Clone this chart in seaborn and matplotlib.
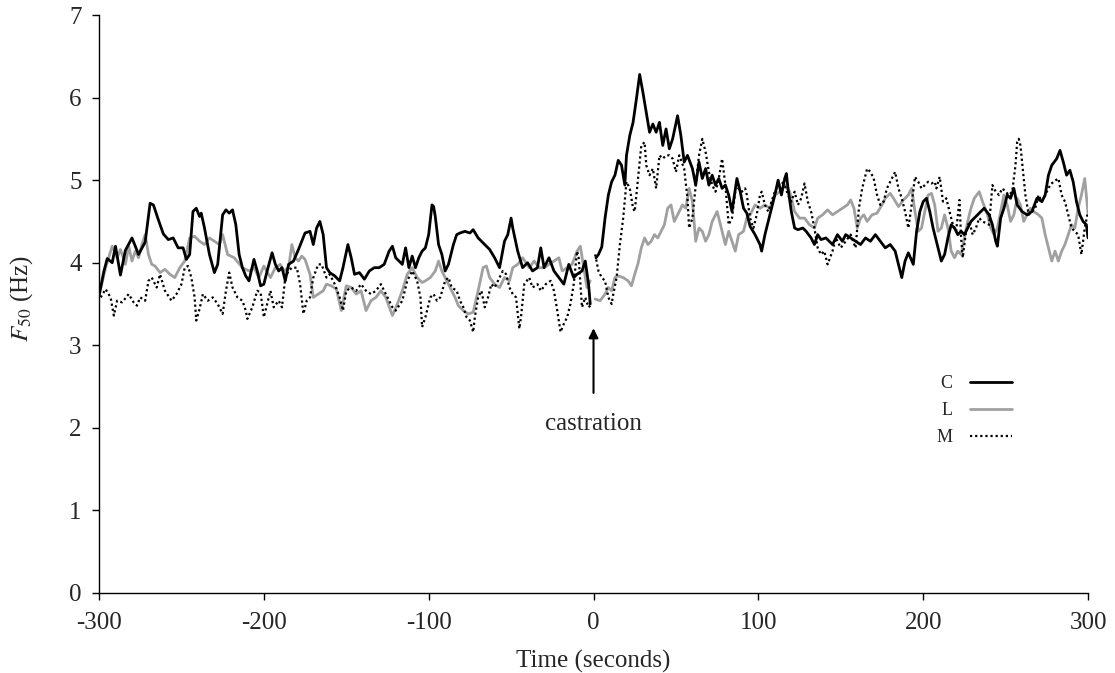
import numpy as np
import pandas as pd
import matplotlib
matplotlib.use("Agg")
import matplotlib.pyplot as plt
from matplotlib.lines import Line2D
import seaborn as sns

# ===============================
# DATOS
# ===============================

c_time = [-300, -297, -295, -292, -290, -287, -284, -280, -276, -272, -269, -267, -264, -261, -258, -255,
          -252, -249, -247, -245, -243, -241, -239, -238, -236, -233, -230, -228, -225, -223, -221, -219,
          -217, -215, -213, -211, -209, -206, -204, -202, -200, -198, -195, -193, -191, -189, -187, -185,
          -182, -179, -177, -175, -172, -170, -168, -166, -164, -162, -160, -157, -154, -152, -149, -147,
          -145, -142, -139, -136, -133, -130, -127, -124, -122, -120, -116, -114, -112, -110, -108, -106,
          -104, -102, -100, -98, -97, -96, -94, -92, -90, -88, -85, -83, -81, -78, -75, -73, -70, -68, -65,
          -63, -60, -57, -54, -52, -50, -49, -46, -43, -40, -37, -34, -32, -30, -27, -24, -21, -18, -15, -12,
          -10, -7, -5, -3, -2,
          1.5, 3, 5, 7, 9, 11, 13, 15, 17, 19, 20, 22, 24, 26, 28, 30, 32, 34, 36, 38, 40, 42, 44, 46, 48,
          51, 53, 55, 57, 60, 62, 64, 66, 68, 70, 72, 74, 76, 78, 80, 82, 84, 87, 89, 91, 93, 95, 98, 101,
          102, 104, 106, 108, 110, 112, 114, 116, 117, 118, 120, 122, 124, 127, 129, 132, 134, 136, 138, 141,
          145, 148, 151, 153, 156, 159, 162, 165, 168, 171, 174, 177, 180, 183, 185, 187, 189, 191, 194, 196,
          198, 200, 202, 204, 206, 208, 211, 213, 215, 217, 219, 221, 223, 225, 227, 229, 231, 233, 235, 237,
          240, 242, 244, 245, 247, 249, 251, 253, 255, 257, 260, 263, 266, 269, 272, 274, 276, 278, 281, 283,
          285, 287, 289, 291, 293, 295, 297, 299, 300]
c_value = [3.6, 3.9, 4.05, 4.0, 4.2, 3.85, 4.15, 4.3, 4.1, 4.25, 4.72, 4.7, 4.52, 4.35, 4.28, 4.3,
           4.18, 4.18, 4.04, 4.1, 4.62, 4.66, 4.56, 4.6, 4.42, 4.1, 3.88, 3.98, 4.58, 4.64, 4.6, 4.64,
           4.46, 4.1, 3.94, 3.84, 3.78, 4.04, 3.9, 3.72, 3.74, 3.9, 4.12, 3.98, 3.9, 3.94, 3.78, 3.98,
           4.02, 4.16, 4.26, 4.36, 4.38, 4.22, 4.42, 4.5, 4.34, 3.94, 3.88, 3.84, 3.78, 3.94, 4.22, 4.06,
           3.86, 3.88, 3.8, 3.9, 3.94, 3.94, 3.98, 4.14, 4.2, 4.06, 3.98, 4.18, 3.94, 4.08, 3.94, 4.06,
           4.14, 4.18, 4.34, 4.7, 4.68, 4.56, 4.22, 4.1, 3.9, 3.98, 4.22, 4.34, 4.36, 4.38, 4.36, 4.4, 4.3, 4.26, 4.2,
           4.16, 4.06, 3.94, 4.26, 4.34, 4.54, 4.42, 4.14, 3.94, 4.0, 3.9, 3.94, 4.18, 3.94, 4.06, 3.9, 3.82, 3.74, 3.98, 3.82,
           3.86, 3.9, 4.02, 3.74, 3.5,
           4.06, 4.1, 4.19, 4.54, 4.82, 4.98, 5.06, 5.24, 5.18, 4.94, 5.3, 5.54, 5.7, 5.98, 6.28, 6.06, 5.82, 5.58, 5.68, 5.58, 5.7, 5.42, 5.62, 5.38, 5.5,
           5.78, 5.54, 5.22, 5.3, 5.14, 4.94, 5.22, 5.02, 5.14, 4.94, 5.06, 4.94, 5.02, 4.9, 4.94, 4.82, 4.62, 5.02, 4.86, 4.66, 4.6, 4.44, 4.34, 4.22,
           4.14, 4.34, 4.5, 4.66, 4.82, 5.0, 4.82, 5.02, 5.08, 4.9, 4.62, 4.42, 4.4, 4.42, 4.38, 4.3, 4.22, 4.34, 4.28, 4.3,
           4.22, 4.34, 4.26, 4.34, 4.3, 4.26, 4.22, 4.3, 4.26, 4.34, 4.26, 4.18, 4.22, 4.14, 3.98, 3.82, 4.02, 4.12, 3.98, 4.38,
           4.62, 4.74, 4.78, 4.62, 4.42, 4.26, 4.02, 4.1, 4.3, 4.46, 4.42, 4.34, 4.38, 4.34, 4.42, 4.5, 4.54, 4.58, 4.62, 4.66,
           4.58, 4.46, 4.26, 4.2, 4.54, 4.66, 4.82, 4.78, 4.9, 4.7, 4.62, 4.58, 4.62, 4.78, 4.74, 4.82, 5.06, 5.18, 5.26, 5.36,
           5.22, 5.06, 5.12, 4.98, 4.74, 4.58, 4.5, 4.46, 4.3]

l_time = [-300, -296, -292, -289, -287, -284, -282, -280, -278, -276, -274, -272, -270, -268, -266, -263,
          -260, -257, -254, -251, -248, -245, -242, -239, -236, -233, -230, -227, -225, -222, -218, -213,
          -209, -206, -203, -200, -196, -193, -190, -188, -185, -183, -181, -179, -177, -175, -172, -170,
          -167, -164, -162, -159, -156, -153, -150, -147, -144, -141, -138, -135, -132, -129, -126, -122,
          -119, -116, -113, -110, -107, -104, -102, -99, -96, -94, -92, -90, -87, -84, -82, -79, -76, -73,
          -70, -67, -65, -63, -60, -57, -54, -51, -49, -46, -43, -39, -36, -33, -30, -27, -24, -21, -19, -16,
          -13, -10, -8, -6, -4, -2,
          1, 4, 7, 9, 11, 13, 15, 18, 21, 23, 25, 27, 29, 31, 33, 35, 37, 39, 41, 43, 45, 47, 49, 51, 54,
          56, 58, 60, 62, 64, 66, 68, 70, 72, 75, 77, 80, 82, 84, 86, 88, 91, 93, 95, 98, 101, 104, 107, 110,
          113, 116, 119, 122, 125, 128, 131, 134, 136, 139, 142, 145, 148, 151, 154, 156, 158, 160, 162, 164,
          166, 169, 172, 175, 177, 180, 182, 185, 188, 191, 193, 195, 197, 199, 201, 203, 205, 207, 209, 211,
          213, 215, 217, 219, 221, 223, 225, 227, 229, 231, 234, 236, 239, 241, 243, 245, 247, 249, 251, 253,
          255, 257, 259, 261, 263, 265, 267, 270, 272, 274, 276, 278, 280, 282, 284, 286, 288, 290, 292, 294,
          296, 298, 300]
l_value = [3.6, 3.94, 4.2, 4.06, 4.16, 3.98, 4.2, 4.02, 4.14, 4.06, 4.22, 4.34, 4.1, 3.98, 3.96, 3.88,
           3.92, 3.86, 3.82, 3.94, 4.02, 4.3, 4.32, 4.26, 4.22, 4.3, 4.26, 4.22, 4.34, 4.1, 4.06, 3.94,
           3.9, 3.94, 3.82, 3.96, 3.82, 3.94, 3.98, 3.9, 3.94, 4.22, 4.06, 4.02, 4.08, 4.04, 3.86, 3.58,
           3.62, 3.66, 3.74, 3.72, 3.68, 3.42, 3.72, 3.7, 3.62, 3.66, 3.42, 3.54, 3.58, 3.66, 3.58, 3.36,
           3.5, 3.66, 3.86, 3.94, 3.82, 3.76, 3.78, 3.82, 3.9, 4.02, 3.9, 3.82, 3.7, 3.58, 3.48, 3.42, 3.38, 3.4,
           3.66, 3.94, 3.96, 3.82, 3.74, 3.7, 3.82, 3.78, 3.94, 3.98, 4.06, 3.94, 4.02, 3.94, 3.94, 3.98, 4.02, 4.06, 3.9, 3.94,
           3.98, 4.14, 4.2, 3.95, 3.7, 3.78,
           3.56, 3.54, 3.62, 3.7, 3.66, 3.82, 3.84, 3.82, 3.78, 3.72, 3.86, 3.99, 4.18, 4.3, 4.22, 4.26, 4.34, 4.3, 4.38, 4.46, 4.66, 4.7, 4.5, 4.58, 4.7,
           4.66, 4.9, 4.74, 4.26, 4.42, 4.38, 4.26, 4.34, 4.5, 4.62, 4.46, 4.22, 4.38, 4.26, 4.14, 4.34, 4.38, 4.54, 4.58, 4.7, 4.66, 4.7, 4.66, 4.82,
           4.86, 4.94, 4.86, 4.62, 4.54, 4.54, 4.46, 4.42, 4.54, 4.58, 4.64, 4.58, 4.62, 4.66, 4.7, 4.76, 4.66, 4.42, 4.54, 4.58,
           4.5, 4.58, 4.6, 4.7, 4.78, 4.84, 4.78, 4.68, 4.76, 4.82, 4.9, 4.62, 4.38, 4.42, 4.62, 4.82, 4.84, 4.7, 4.38, 4.42,
           4.58, 4.42, 4.14, 4.06, 4.14, 4.1, 4.3, 4.5, 4.66, 4.78, 4.86, 4.74, 4.58, 4.42, 4.34, 4.42, 4.62, 4.82, 4.7, 4.5,
           4.58, 4.78, 4.7, 4.5, 4.58, 4.66, 4.62, 4.58, 4.54, 4.34, 4.18, 4.02, 4.14, 4.02, 4.14, 4.22, 4.34, 4.46, 4.42, 4.66,
           4.82, 5.02, 4.6]

m_time = [-299, -296, -293, -291, -289, -286, -282, -279, -277, -275, -272, -270, -268, -265, -263, -260,
          -258, -256, -253, -250, -248, -246, -244, -242, -241, -239, -237, -234, -231, -228, -225, -223,
          -221, -219, -216, -213, -211, -210, -207, -204, -202, -200, -198, -196, -194, -191, -189, -187,
          -185, -183, -180, -178, -176, -174, -172, -170, -167, -165, -162, -160, -157, -154, -152, -150,
          -147, -144, -141, -138, -135, -132, -129, -126, -122, -120, -116, -113, -110, -107, -105, -104,
          -102, -99, -97, -95, -93, -90, -88, -86, -83, -81, -79, -77, -75, -73, -72, -70, -68, -66, -64,
          -62, -60, -58, -55, -53, -51, -49, -47, -45, -44, -42, -39, -37, -34, -32, -29, -26, -24, -22, -20,
          -18, -16, -14, -12, -10, -9, -7, -5, -3, -1,
          1, 3, 5, 7, 9, 11, 12, 14, 16, 18, 20, 22, 24, 25, 27, 29, 31, 32, 34, 36, 38, 40, 42, 44, 46, 48,
          50, 52, 55, 57, 58, 60, 62, 64, 66, 68, 70, 72, 74, 76, 78, 80, 82, 84, 86, 88, 90, 92, 93, 95, 97,
          99, 101, 102, 104, 106, 108, 110, 112, 114, 116, 118, 120, 122, 124, 126, 128, 130, 132, 134, 136,
          138, 140, 142, 145, 147, 150, 153, 156, 159, 161, 163, 166, 168, 170, 172, 174, 176, 178, 180, 183,
          185, 187, 189, 191, 193, 195, 197, 199, 201, 203, 205, 207, 208, 210, 212, 214, 216, 218, 220, 222,
          223, 224, 226, 228, 230, 232, 234, 236, 240, 242, 244, 246, 248, 250, 252, 254, 256, 257, 258, 259,
          261, 262, 264, 266, 268, 270, 272, 275, 277, 279, 282, 284, 286, 288, 290, 292, 294, 296, 298, 300]
m_value = [3.58, 3.68, 3.58, 3.36, 3.54, 3.52, 3.62, 3.52, 3.48, 3.58, 3.54, 3.78, 3.82, 3.7, 3.86, 3.66,
           3.6, 3.54, 3.62, 3.74, 3.94, 3.96, 3.82, 3.58, 3.3, 3.44, 3.62, 3.54, 3.58, 3.5, 3.38, 3.66,
           3.88, 3.7, 3.58, 3.54, 3.42, 3.32, 3.46, 3.66, 3.64, 3.34, 3.5, 3.66, 3.46, 3.54, 3.46, 3.82,
           3.9, 3.94, 3.94, 3.74, 3.38, 3.54, 3.58, 3.82, 3.98, 3.98, 3.82, 3.86, 3.74, 3.58, 3.42, 3.66,
           3.7, 3.66, 3.74, 3.66, 3.62, 3.66, 3.74, 3.62, 3.46, 3.42, 3.54, 3.78, 3.9, 3.78, 3.58, 3.22,
           3.34, 3.58, 3.62, 3.54, 3.58, 3.78, 3.82, 3.7, 3.66, 3.54, 3.46, 3.34, 3.3, 3.16, 3.34, 3.58, 3.66, 3.46, 3.58,
           3.74, 3.7, 3.78, 3.9, 3.86, 3.7, 3.62, 3.58, 3.2, 3.34, 3.74, 3.82, 3.7, 3.74, 3.66, 3.74, 3.78, 3.66, 3.42, 3.16,
           3.26, 3.34, 3.5, 3.74, 4.14, 4.06, 3.46, 3.58, 3.46, 3.5,
           4.1, 3.9, 3.82, 3.78, 3.58, 3.5, 3.62, 3.82, 4.22, 4.54, 4.98, 4.9, 4.66, 4.62, 5.02, 5.42, 5.46, 5.18, 5.06, 5.14, 4.9, 5.3, 5.26, 5.3, 5.3, 5.26,
           5.1, 5.3, 5.14, 4.78, 4.42, 4.54, 4.94, 5.3, 5.5, 5.34, 5.1, 4.94, 4.86, 5.02, 5.26, 4.94, 4.46, 4.54, 4.86, 4.9, 4.86, 4.9, 4.82, 4.54, 4.42,
           4.58, 4.82, 4.86, 4.7, 4.62, 4.74, 4.86, 4.94, 4.98, 4.94, 4.82, 4.74, 4.86, 4.7, 4.78, 4.96, 4.74, 4.62, 4.42, 4.18,
           4.1, 4.14, 3.98, 4.14, 4.3, 4.18, 4.26, 4.34, 4.18, 4.66, 4.9, 5.14, 5.1, 5.02, 4.82, 4.7, 4.74, 4.9, 4.98, 5.1,
           4.9, 4.78, 4.62, 4.42, 4.7, 5.04, 4.98, 4.9, 4.94, 4.98, 4.96, 4.98, 4.9, 5.04, 4.74, 4.78, 4.62, 4.46, 4.38, 4.76,
           4.3, 4.06, 4.38, 4.5, 4.34, 4.42, 4.54, 4.5, 4.46, 4.94, 4.86, 4.82, 4.9, 4.86, 4.82, 4.86, 5.18, 5.46, 5.5, 5.42,
           5.02, 4.82, 4.58, 4.62, 4.66, 4.82, 4.74, 4.86, 4.94, 4.98, 5.02, 4.82, 4.74, 4.58, 4.42, 4.38, 4.34, 4.1, 4.42, 4.62]

series_names = ["C", "L", "M"]


# ===============================
# TABLA LARGA
# ===============================

def build_frame(times, values, name):
    df = pd.DataFrame({"time": times, "f50": values})
    df["series"] = name
    # antes / despues de la castracion se dibujan como tramos separados
    df["phase"] = np.where(df["time"] < 0, "pre", "post")
    return df


data = pd.concat([
    build_frame(c_time, c_value, "C"),
    build_frame(l_time, l_value, "L"),
    build_frame(m_time, m_value, "M"),
], ignore_index=True)


# ===============================
# GRAFICO
# ===============================

sns.set_style("ticks")
plt.rcParams["font.family"] = ["Liberation Serif", "DejaVu Serif"]
plt.rcParams["mathtext.fontset"] = "stix"
plt.rcParams["axes.unicode_minus"] = False

fig = plt.figure(figsize=(11.15, 6.73), dpi=100)
ax = fig.add_axes([0.0888, 0.1189, 0.8870, 0.8588])

styles = {
    "L": dict(color="#a0a0a0", lw=2.0, ls="-"),
    "C": dict(color="black", lw=2.0, ls="-"),
    "M": dict(color="black", lw=1.6, ls=(0, (1, 1.3))),
}

for name in ["L", "C", "M"]:
    sub = data[data["series"] == name]
    sns.lineplot(
        data=sub,
        x="time",
        y="f50",
        units="phase",
        estimator=None,
        sort=False,
        color=styles[name]["color"],
        linewidth=styles[name]["lw"],
        linestyle=styles[name]["ls"],
        ax=ax,
        legend=False
    )

ax.set_xlim(-300, 300)
ax.set_ylim(0, 7)
ax.set_xticks(np.arange(-300, 301, 100))
ax.set_yticks(np.arange(0, 8, 1))
ax.tick_params(direction="out", length=5, width=1, labelsize=18, color="black")
ax.tick_params(axis="x", pad=9)
ax.tick_params(axis="y", pad=7.5)

for side in ["top", "right"]:
    ax.spines[side].set_visible(False)
for side in ["left", "bottom"]:
    ax.spines[side].set_color("black")
    ax.spines[side].set_linewidth(1.0)

ax.set_xlabel("Time (seconds)", fontsize=18, labelpad=11)
ax.set_ylabel(r"$F_{50}$ (Hz)", fontsize=18)
ax.yaxis.set_label_coords(-0.065, 0.51)

# flecha de castracion
ax.annotate(
    "",
    xy=(0, 3.24),
    xytext=(0, 2.39),
    arrowprops=dict(arrowstyle="-|>", color="black", lw=1.5, mutation_scale=14)
)
ax.text(0, 2.05, "castration", ha="center", va="center", fontsize=18)

handles = [
    Line2D([], [], color=styles[n]["color"], lw=styles[n]["lw"], ls=styles[n]["ls"])
    for n in series_names
]
ax.legend(
    handles,
    series_names,
    loc="center right",
    bbox_to_anchor=(0.923, 0.315),
    frameon=False,
    markerfirst=False,
    fontsize=13,
    handlelength=2.3,
    handletextpad=1.0,
    labelspacing=0.55,
    borderpad=0,
    borderaxespad=0
)

fig.savefig("out.png", dpi=100)
